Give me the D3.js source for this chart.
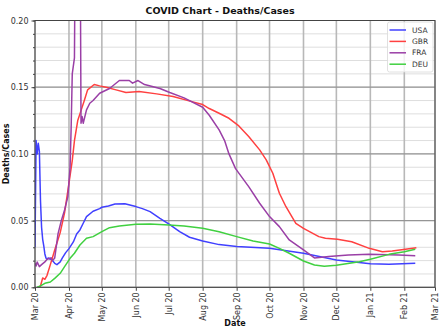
<!DOCTYPE html>
<html><head><meta charset="utf-8">
<script src="https://cdn.jsdelivr.net/npm/d3@7"></script>
<style>body{margin:0;background:#fff}svg{display:block}text{font-family:"DejaVu Sans",sans-serif}</style>
</head><body><svg id="c" width="440" height="330"></svg>
<script>
const categories = ["USA", "GBR", "FRA", "DEU"];
const colors = ["#4040ff", "#ff4040", "#9a3fa6", "#40d040"];
const xTickLabels = ["Mar 20","Apr 20","May 20","Jun 20","Jul 20","Aug 20","Sep 20","Oct 20","Nov 20","Dec 20","Jan 21","Feb 21","Mar 21"];
const yTickValues = [0, 0.05, 0.10, 0.15, 0.20];
// day offsets from 2020-03-01 and ratios
const usaDays = [0,1,2,3,4,5,6,7,8,9,10,11,12,14,15,16,18,20,23,25,28,31,35,38,41,44,47,53,59,61,67,73,82,92,98,105,114,122,132,141,153,168,184,214,245,275,306,323,347];
const usaVals = [0.030,0.110,0.100,0.108,0.102,0.065,0.045,0.036,0.031,0.025,0.022,0.021,0.022,0.021,0.022,0.020,0.018,0.017,0.019,0.022,0.026,0.029,0.034,0.040,0.043,0.048,0.053,0.057,0.059,0.060,0.061,0.0625,0.0627,0.0605,0.059,0.0567,0.0517,0.0475,0.0417,0.0375,0.0347,0.0320,0.0305,0.0292,0.0255,0.0205,0.0177,0.0172,0.0180];
const gbrDays = [3,5,7,9,11,14,18,23,27,31,34,36,39,41,45,48,54,59,65,74,83,95,111,126,144,153,159,168,177,186,195,205,211,217,223,229,238,245,259,265,276,289,305,317,326,338,348];
const gbrVals = [0.000,0.001,0.007,0.006,0.009,0.017,0.028,0.041,0.056,0.078,0.095,0.110,0.125,0.130,0.140,0.148,0.152,0.151,0.150,0.148,0.146,0.1467,0.145,0.143,0.139,0.137,0.134,0.1305,0.1267,0.121,0.113,0.103,0.0955,0.0855,0.0705,0.0604,0.048,0.0442,0.038,0.0367,0.036,0.0342,0.0292,0.0267,0.0272,0.0285,0.0297];
const fraDays = [0,1,2,4,6,9,11,14,16,18,21,24,27,30,32,33,34,36,37,41,42,43,44,47,50,53,59,68,77,86,89,94,100,114,123,136,153,159,168,173,177,183,195,205,214,223,232,245,255,268,286,305,332,347];
const fraVals = [0.018,0.016,0.019,0.0155,0.017,0.019,0.021,0.022,0.020,0.022,0.040,0.050,0.058,0.068,0.090,0.120,0.160,0.172,0.300,0.300,0.123,0.128,0.123,0.133,0.138,0.140,0.1455,0.149,0.155,0.155,0.153,0.155,0.152,0.149,0.146,0.142,0.135,0.129,0.118,0.110,0.100,0.089,0.0755,0.063,0.053,0.0455,0.0355,0.028,0.022,0.023,0.0243,0.0248,0.0243,0.0237];
const deuDays = [2,5,9,14,18,23,27,32,36,41,47,53,61,68,77,92,105,122,136,153,168,184,199,214,223,232,245,255,264,275,296,306,323,337,347];
const deuVals = [0.000,0.001,0.003,0.004,0.0067,0.0105,0.0155,0.0217,0.0255,0.0317,0.0367,0.038,0.0417,0.0447,0.046,0.0472,0.0475,0.0467,0.046,0.0442,0.0417,0.038,0.0347,0.0325,0.0292,0.0255,0.0197,0.0167,0.0157,0.0165,0.0192,0.021,0.0247,0.0267,0.0285];

const seriesDays = [usaDays, gbrDays, fraDays, deuDays];
const seriesVals = [usaVals, gbrVals, fraVals, deuVals];

const svg = d3.select("#c");
const m = {l:35, r:5, t:20, b:43};
const W = 440, H = 330;
const start = new Date(2020, 2, 1);
const x = d3.scaleTime().domain([start, new Date(2021, 2, 1)]).range([m.l, 435]);
const y = d3.scaleLinear().domain([0, 0.2]).range([287.3, 20.5]);
const dayToDate = d => d3.timeDay.offset(start, d);

const g = svg.append("g");
// minor horizontal grid
g.selectAll(".ymin").data(d3.range(0, 0.2001, 0.01)).join("line")
  .attr("x1", m.l).attr("x2", 435).attr("y1", d => y(d)).attr("y2", d => y(d))
  .attr("stroke", "#dedede").attr("stroke-width", 1);
// vertical month grid
const months = d3.timeMonth.range(start, new Date(2021, 2, 2));
g.selectAll(".xg").data(months).join("line")
  .attr("x1", d => x(d)).attr("x2", d => x(d)).attr("y1", y(0)).attr("y2", y(0.2))
  .attr("stroke", "#b8b8b8").attr("stroke-width", 1.6);
// major horizontal grid
g.selectAll(".ymaj").data(yTickValues).join("line")
  .attr("x1", m.l).attr("x2", 435).attr("y1", d => y(d)).attr("y2", d => y(d))
  .attr("stroke", "#959595").attr("stroke-width", 1.2);

// clip
svg.append("clipPath").attr("id", "clip").append("rect")
  .attr("x", m.l).attr("y", y(0.2)).attr("width", 435 - m.l).attr("height", y(0) - y(0.2));

const line = d3.line().x(d => x(dayToDate(d[0]))).y(d => y(d[1]));
const lg = svg.append("g").attr("clip-path", "url(#clip)");
categories.forEach((c, i) => {
  const pts = seriesDays[i].map((d, j) => [d, seriesVals[i][j]]);
  lg.append("path").datum(pts).attr("d", line).attr("fill", "none")
    .attr("stroke", colors[i]).attr("stroke-width", 1.5).attr("stroke-linejoin", "round");
});

// frame
svg.append("rect").attr("x", m.l).attr("y", y(0.2)).attr("width", 435 - m.l).attr("height", y(0) - y(0.2))
  .attr("fill", "none").attr("stroke", "#444").attr("stroke-width", 1);

// y axis
const ya = svg.append("g").attr("transform", `translate(${m.l},0)`)
  .call(d3.axisLeft(y).tickValues(yTickValues).tickFormat(d3.format(".2f")).tickSize(3.5));
ya.select(".domain").remove();
ya.selectAll("text").attr("font-size", 8).attr("fill", "#333").attr("font-family", "DejaVu Sans");
ya.selectAll("line").attr("stroke", "#444");
const yminor = svg.append("g").attr("transform", `translate(${m.l},0)`)
  .call(d3.axisLeft(y).tickValues(d3.range(0, 0.2001, 0.01)).tickFormat("").tickSize(2));
yminor.select(".domain").remove();
yminor.selectAll("line").attr("stroke", "#444");

// x axis
const xa = svg.append("g").attr("transform", `translate(0,${y(0)})`)
  .call(d3.axisBottom(x).tickValues(months).tickFormat((d, i) => xTickLabels[i]).tickSize(3.5));
xa.select(".domain").remove();
xa.selectAll("line").attr("stroke", "#444");
xa.selectAll("text").attr("font-size", 8).attr("fill", "#333").attr("font-family", "DejaVu Sans")
  .attr("transform", "rotate(-90)").attr("text-anchor", "end").attr("dy", "0.32em").attr("dx", 0)
  .attr("x", -5).attr("y", 0);

// titles
svg.append("text").attr("x", 220).attr("y", 14).attr("text-anchor", "middle")
  .attr("font-size", 9.5).attr("font-weight", "bold").attr("fill", "#111").text("COVID Chart - Deaths/Cases");
svg.append("text").attr("x", 235).attr("y", 326).attr("text-anchor", "middle")
  .attr("font-size", 8).attr("font-weight", "bold").attr("fill", "#111").text("Date");
svg.append("text").attr("transform", `translate(9,${(y(0)+y(0.2))/2}) rotate(-90)`).attr("text-anchor", "middle")
  .attr("font-size", 8).attr("font-weight", "bold").attr("fill", "#111").text("Deaths/Cases");

// legend
const leg = svg.append("g");
leg.append("rect").attr("x", 387.5).attr("y", 22).attr("width", 45.5).attr("height", 50).attr("rx", 2)
  .attr("fill", "rgba(255,255,255,0.8)").attr("stroke", "#d8d8d8").attr("stroke-width", 0.8);
categories.forEach((c, i) => {
  const yy = 30 + i * 11.4;
  leg.append("line").attr("x1", 389.5).attr("x2", 406).attr("y1", yy).attr("y2", yy)
    .attr("stroke", colors[i]).attr("stroke-width", 1.5);
  leg.append("text").attr("x", 412).attr("y", yy).attr("dy", "0.35em").attr("font-size", 7.5)
    .attr("fill", "#333").text(c);
});
</script></body></html>
